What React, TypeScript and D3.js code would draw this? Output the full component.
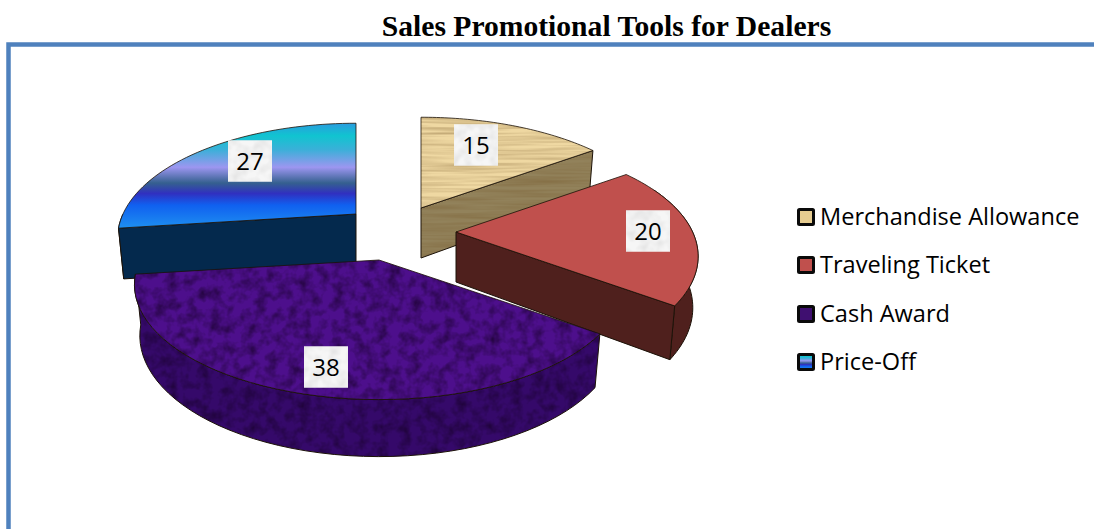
import React from "react";
import * as d3 from "d3";

const categories = ["Merchandise Allowance", "Traveling Ticket", "Cash Award", "Price-Off"];
const values = [15, 20, 38, 27];

// layout: where the exploded slice apexes sit, and where labels / legend rows sit
const apexX = [421, 456, 379, 356];
const apexY = [208, 232, 260, 214];
const sliceWidth = [1, 0.99, 1, 0.975];
const labelX = [476, 648, 326, 250];
const labelY = [145, 231, 367, 161];
const legendRowY = [217, 265, 314, 362];

const topFill = ["url(#tanTop)", "#c0504d", "url(#purpleTop)", "url(#blueTop)"];
const wallFill = ["url(#tanWall)", "#4f201d", "url(#purpleWall)", "#04294d"];
const swatchFill = ["#e6cc90", "#c0504d", "#3f0f70", "url(#blueTop)"];
const edge = "#1c1208";

const W = 1094, H = 529;
const RX = 239, RY = 110, PERSP = 0.212, DEPTH = 50, SHRINK = 0.022;

const pie = d3.pie<number>().sort(null).startAngle(0).endAngle(2 * Math.PI);
const arcs = pie(values);
const lineGen = d3.line<[number, number]>().x(d => d[0]).y(d => d[1]);

function project(i: number, theta: number, r: number, h: number): [number, number] {
  const f = 1 / (1 + PERSP * r * Math.cos(theta));
  const x = apexX[i] + RX * sliceWidth[i] * r * Math.sin(theta) * f * (1 - SHRINK * h);
  const y = apexY[i] - RY * r * Math.cos(theta) * f + h * DEPTH * Math.pow(f, 0.55);
  return [x, y];
}
function sweep(a: number, b: number): number[] {
  const n = 48;
  return d3.range(n + 1).map(k => a + ((b - a) * k) / n);
}
function topPath(i: number, a: number, b: number) {
  const pts = [project(i, 0, 0, 0), ...sweep(a, b).map(t => project(i, t, 1, 0))];
  return lineGen(pts) + "Z";
}
function radialWall(i: number, t: number) {
  return lineGen([project(i, t, 0, 0), project(i, t, 1, 0), project(i, t, 1, 1), project(i, t, 0, 1)]) + "Z";
}
function outerWall(i: number, a: number, b: number) {
  const ts = sweep(a, b);
  const pts = [...ts.map(t => project(i, t, 1, 0)), ...ts.slice().reverse().map(t => project(i, t, 1, 1))];
  return lineGen(pts) + "Z";
}

const drawOrder = [3, 0, 1, 2];

function Slice({ i }: { i: number }) {
  const a = arcs[i].startAngle, b = arcs[i].endAngle;
  const walls: { d: string }[] = [];
  if (i === 0) walls.push({ d: radialWall(i, b) });
  if (i === 1) {
    walls.push({ d: outerWall(i, a + 0.2, b) });
    walls.push({ d: radialWall(i, b) });
  }
  if (i === 2) walls.push({ d: outerWall(i, a, b) });
  if (i === 3) {
    walls.push({ d: outerWall(i, a, a + 0.12) });
    walls.push({ d: radialWall(i, a) });
  }
  return (
    <g>
      {walls.map((w, k) => (
        <path key={k} d={w.d} fill={wallFill[i]} stroke={edge} strokeWidth={1} strokeLinejoin="round" />
      ))}
      <path d={topPath(i, a, b)} fill={topFill[i]} stroke={edge} strokeWidth={1} strokeLinejoin="round" strokeOpacity={0.8} />
    </g>
  );
}

export default function App() {
  return (
    <svg width={W} height={H} viewBox={`0 0 ${W} ${H}`}
      style={{ position: "fixed", left: 0, top: 0, background: "#fff", display: "block" }}>
      <defs>
        <linearGradient id="blueTop" x1="0" y1="0" x2="0" y2="1">
          <stop offset="0" stopColor="#2a9cdf" />
          <stop offset="0.12" stopColor="#10c4d0" />
          <stop offset="0.25" stopColor="#3ab0d8" />
          <stop offset="0.42" stopColor="#9c96f0" />
          <stop offset="0.57" stopColor="#35608f" />
          <stop offset="0.67" stopColor="#3030c0" />
          <stop offset="0.78" stopColor="#1060f0" />
          <stop offset="1" stopColor="#1e90f0" />
        </linearGradient>
        <filter id="mottle" x="0" y="0" width="1" height="1" colorInterpolationFilters="sRGB">
          <feTurbulence type="fractalNoise" baseFrequency="0.09" numOctaves="3" seed="4" />
          <feColorMatrix values="0 0 0 0 0.08  0 0 0 0 0  0 0 0 0 0.14  1.3 0 0 0 -0.5" />
          <feComposite in2="SourceGraphic" operator="atop" />
          <feComposite in2="SourceGraphic" operator="over" />
        </filter>
        <filter id="grain" x="0" y="0" width="1" height="1" colorInterpolationFilters="sRGB">
          <feTurbulence type="fractalNoise" baseFrequency="0.012 0.3" numOctaves="2" seed="7" />
          <feColorMatrix values="0 0 0 0 0.45  0 0 0 0 0.33  0 0 0 0 0.15  0.7 0 0 0 -0.24" />
          <feComposite in2="SourceGraphic" operator="atop" />
          <feComposite in2="SourceGraphic" operator="over" />
        </filter>
        <filter id="paper" x="0" y="0" width="1" height="1" colorInterpolationFilters="sRGB">
          <feTurbulence type="fractalNoise" baseFrequency="0.1" numOctaves="2" seed="2" />
          <feColorMatrix values="0 0 0 0 0.7  0 0 0 0 0.7  0 0 0 0 0.7  0.5 0 0 0 -0.17" />
          <feComposite in2="SourceGraphic" operator="atop" />
          <feComposite in2="SourceGraphic" operator="over" />
        </filter>
        <pattern id="purpleTop" patternUnits="userSpaceOnUse" width={W} height={H}>
          <rect width={W} height={H} fill="#4d0f8c" filter="url(#mottle)" />
        </pattern>
        <pattern id="purpleWall" patternUnits="userSpaceOnUse" width={W} height={H}>
          <rect width={W} height={H} fill="#35096a" filter="url(#mottle)" />
        </pattern>
        <pattern id="tanTop" patternUnits="userSpaceOnUse" width={W} height={H}>
          <rect width={W} height={H} fill="#efd8a2" filter="url(#grain)" />
        </pattern>
        <pattern id="tanWall" patternUnits="userSpaceOnUse" width={W} height={H}>
          <rect width={W} height={H} fill="#92825b" filter="url(#grain)" />
        </pattern>
      </defs>

      <text x={606.5} y={36} textAnchor="middle" fontFamily="'Liberation Serif', serif" fontWeight="bold" fontSize={29.6} fill="#000">
        Sales Promotional Tools for Dealers
      </text>

      <path d={`M8.5 ${H} V44.5 H${W}`} fill="none" stroke="#4f81bd" strokeWidth={4.5} />

      {drawOrder.map(i => <Slice key={i} i={i} />)}

      {values.map((v, i) => (
        <g key={categories[i]}>
          <rect x={labelX[i] - 22} y={labelY[i] - 20.5} width={44} height={41} fill="#f6f6f6" filter="url(#paper)" />
          <text x={labelX[i]} y={labelY[i]} dy="0.36em" textAnchor="middle" fontFamily="'Open Sans', sans-serif" fontSize={24} fill="#000">
            {v}
          </text>
        </g>
      ))}

      {categories.map((c, i) => (
        <g key={c}>
          <rect x={798.5} y={legendRowY[i] - 7.5} width={15} height={15} rx={1} fill={swatchFill[i]} stroke="#0a0a0a" strokeWidth={3} />
          <text x={820} y={legendRowY[i]} dy="0.36em" fontFamily="'Open Sans', sans-serif" fontSize={23.55} fill="#000">
            {c}
          </text>
        </g>
      ))}
    </svg>
  );
}
